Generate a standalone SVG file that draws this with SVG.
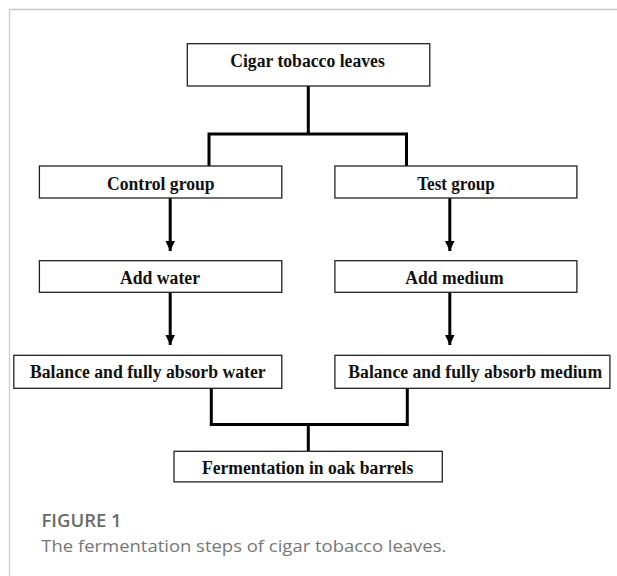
<svg xmlns="http://www.w3.org/2000/svg" width="617" height="576" viewBox="0 0 617 576">
<style>
.box{fill:#fff;stroke:#222;stroke-width:1.3}
.lbl{font-family:"Liberation Serif","Times New Roman",serif;font-weight:bold;font-size:18.5px;fill:#111;text-anchor:middle}
.conn{fill:none;stroke:#000;stroke-width:3;stroke-linejoin:miter;stroke-linecap:butt}
.cap1{font-family:"Open Sans","Noto Sans",sans-serif;font-weight:600;font-size:18.5px;fill:#6b6b6b}
.cap2{font-family:"Open Sans","Noto Sans",sans-serif;font-size:17px;fill:#777}
</style>
<defs>
<marker id="ah" markerUnits="userSpaceOnUse" markerWidth="11" markerHeight="11" refX="10.5" refY="5" orient="auto">
<path d="M0,0 L10.5,5 L0,10 Z" fill="#000"/>
</marker>
</defs>
<rect width="617" height="576" fill="#fff"/>
<g id="frame">
<line x1="9" y1="9.5" x2="617" y2="9.5" stroke="#c8c8c8" stroke-width="1.6"/>
<line x1="9.5" y1="9" x2="9.5" y2="576" stroke="#cfcfcf" stroke-width="1.4"/>
</g>
<g id="connectors">
<path class="conn" d="M308.3,86 V134 M209,166 V134 H406.5 V166"/>
<path class="conn" d="M211.3,388 V424.5 H407.3 V388 M308.3,424.5 V451"/>
<line class="conn" x1="170.2" y1="198" x2="170.2" y2="251" marker-end="url(#ah)"/>
<line class="conn" x1="170.2" y1="292.3" x2="170.2" y2="345" marker-end="url(#ah)"/>
<line class="conn" x1="449.8" y1="198" x2="449.8" y2="251" marker-end="url(#ah)"/>
<line class="conn" x1="449.8" y1="292.3" x2="449.8" y2="345" marker-end="url(#ah)"/>
</g>
<g id="cigar"><rect class="box" x="187.3" y="43.7" width="242.5" height="42.3"/><text class="lbl" x="307.5" y="66.7" textLength="154.7" lengthAdjust="spacingAndGlyphs">Cigar tobacco leaves</text></g>
<g id="control"><rect class="box" x="39.4" y="166" width="242.4" height="32"/><text class="lbl" x="160.8" y="190" textLength="107.5" lengthAdjust="spacingAndGlyphs">Control group</text></g>
<g id="test"><rect class="box" x="334.9" y="166" width="242" height="32"/><text class="lbl" x="456" y="190" textLength="77.5" lengthAdjust="spacingAndGlyphs">Test group</text></g>
<g id="addwater"><rect class="box" x="39.4" y="260.7" width="242.4" height="31.6"/><text class="lbl" x="160" y="284.3" textLength="80" lengthAdjust="spacingAndGlyphs">Add water</text></g>
<g id="addmedium"><rect class="box" x="334.9" y="260.7" width="242" height="31.6"/><text class="lbl" x="454.5" y="284.3" textLength="98.3" lengthAdjust="spacingAndGlyphs">Add medium</text></g>
<g id="balwater"><rect class="box" x="13.8" y="355.3" width="268" height="33"/><text class="lbl" x="147.8" y="377.5" textLength="235.7" lengthAdjust="spacingAndGlyphs">Balance and fully absorb water</text></g>
<g id="balmedium"><rect class="box" x="334.9" y="355.3" width="275" height="33"/><text class="lbl" x="475.2" y="377.5" textLength="253.8" lengthAdjust="spacingAndGlyphs">Balance and fully absorb medium</text></g>
<g id="ferment"><rect class="box" x="174" y="451.3" width="268.3" height="30.6"/><text class="lbl" x="307.6" y="474" textLength="211.3" lengthAdjust="spacingAndGlyphs">Fermentation in oak barrels</text></g>
<g id="caption">
<text class="cap1" x="41.5" y="526.5">FIGURE 1</text>
<text class="cap2" x="41.3" y="551.7" textLength="405" lengthAdjust="spacingAndGlyphs">The fermentation steps of cigar tobacco leaves.</text>
</g>
</svg>
